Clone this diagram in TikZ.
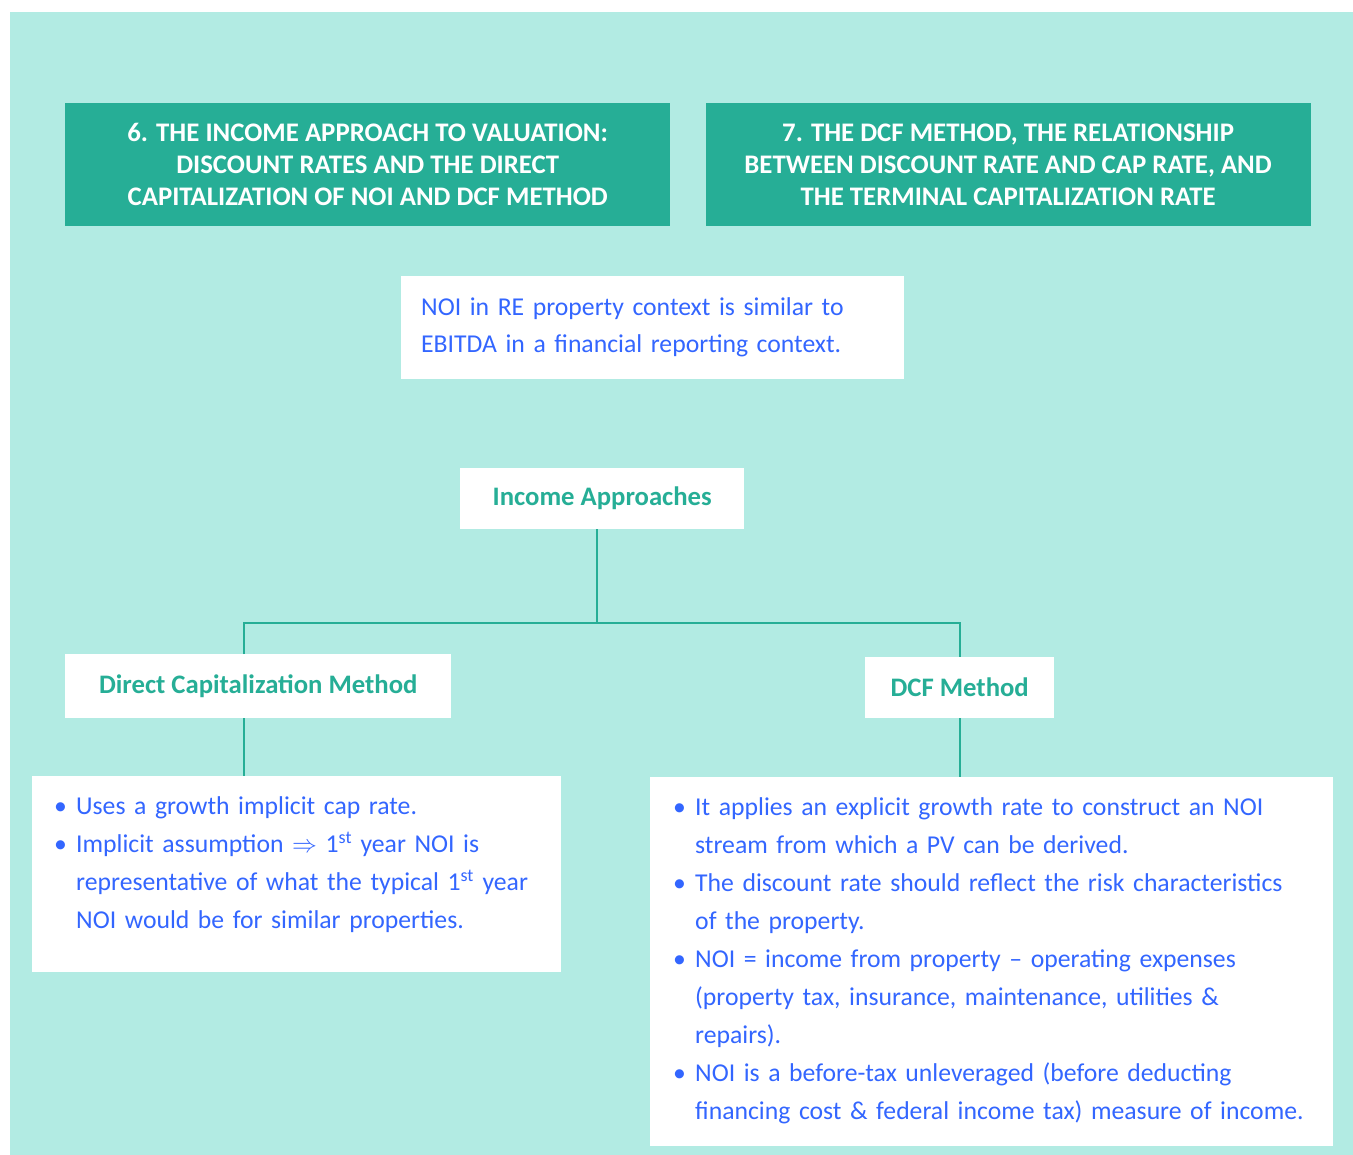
\documentclass[tikz,border=0pt]{standalone}
\usepackage{fontspec}
\setmainfont{Carlito}
\usetikzlibrary{positioning,calc}
\definecolor{bgteal}{HTML}{B2EBE3}
\definecolor{darkteal}{HTML}{26AE96}
\definecolor{textblue}{HTML}{3366FF}
\tikzset{hbox/.style={fill=darkteal, text=white, inner sep=0pt, align=center, minimum width=605pt, minimum height=123pt, font=\bfseries\fontsize{26.8}{32}\selectfont}}
\tikzset{wbox/.style={fill=white, text=darkteal, inner sep=0pt, align=center, font=\bfseries\fontsize{26.7}{31}\selectfont}}
\tikzset{tbox/.style={fill=white, text=textblue, inner ysep=0pt, align=left, font=\fontsize{25.7}{38}\selectfont}}
\tikzset{link/.style={draw=darkteal, line width=2pt}}
\newcommand{\bitem}[1]{\par\noindent\hangindent=22pt\hangafter=1\makebox[22pt][l]{\textbullet}#1\par}

\begin{document}
\begin{tikzpicture}[x=1pt, y=-1pt]
		\fill[white] (0,0) rectangle (1353,1155);
		\useasboundingbox (0,0) rectangle (1353,1155);
		\fill[bgteal] (10,12) rectangle (1353,1155);
%
		\node[hbox, anchor=north west] (H6) at (65,103) {6. THE INCOME APPROACH TO VALUATION:\\ DISCOUNT RATES AND THE DIRECT\\ CAPITALIZATION OF NOI AND DCF METHOD};
		\node[hbox, right=35pt of H6] (H7) {7. THE DCF METHOD, THE RELATIONSHIP\\ BETWEEN DISCOUNT RATE AND CAP RATE, AND\\ THE TERMINAL CAPITALIZATION RATE};
		\node[tbox, anchor=north west, text width=463pt, inner xsep=20pt, minimum height=103pt, font=\fontsize{25.7}{37}\selectfont] (N) at (401,276) {NOI in RE property context is similar to\\ EBITDA in a financial reporting context.};
%
		\node[wbox, anchor=north west, minimum width=284pt, minimum height=61pt] (I) at (460,468) {Income Approaches};
		\node[wbox, anchor=north west, minimum width=386pt, minimum height=64pt] (D) at (65,654) {Direct Capitalization Method};
		\node[wbox, anchor=north west, minimum width=189pt, minimum height=61pt] (C) at (865,657) {DCF Method};
%
		\node[tbox, anchor=north west, text width=485pt, inner xsep=22pt, minimum height=196pt] (Dl) at (32,776) {%
			\bitem{Uses a growth implicit cap rate.}
			\bitem{Implicit assumption $\Rightarrow$ 1\textsuperscript{st} year NOI is\newline representative of what the typical 1\textsuperscript{st} year\newline NOI would be for similar properties.}
			\vspace{40pt}};
		\node[tbox, anchor=north west, text width=637pt, inner xsep=23pt, minimum height=366pt] (Cl) at (650,777) {%
			\bitem{It applies an explicit growth rate to construct an NOI\newline stream from which a PV can be derived.}
			\bitem{The discount rate should reflect the risk characteristics\newline of the property.}
			\bitem{NOI = income from property -- operating expenses\newline (property tax, insurance, maintenance, utilities \&\newline repairs).}
			\bitem{NOI is a before-tax unleveraged (before deducting\newline financing cost \& federal income tax) measure of income.}
			\vspace{22pt}};
%
		\coordinate (fork) at (597,623);
		\coordinate (lx) at (244,623);
		\coordinate (rx) at (960,623);
		\draw[link] (I.south -| fork) -- (fork);
		\draw[link] (D.north -| lx) -- (lx) -- (rx) -- (C.north -| rx);
		\draw[link] (D.south -| lx) -- (Dl.north -| lx);
		\draw[link] (C.south -| rx) -- (Cl.north -| rx);
	\end{tikzpicture}
\end{document}
